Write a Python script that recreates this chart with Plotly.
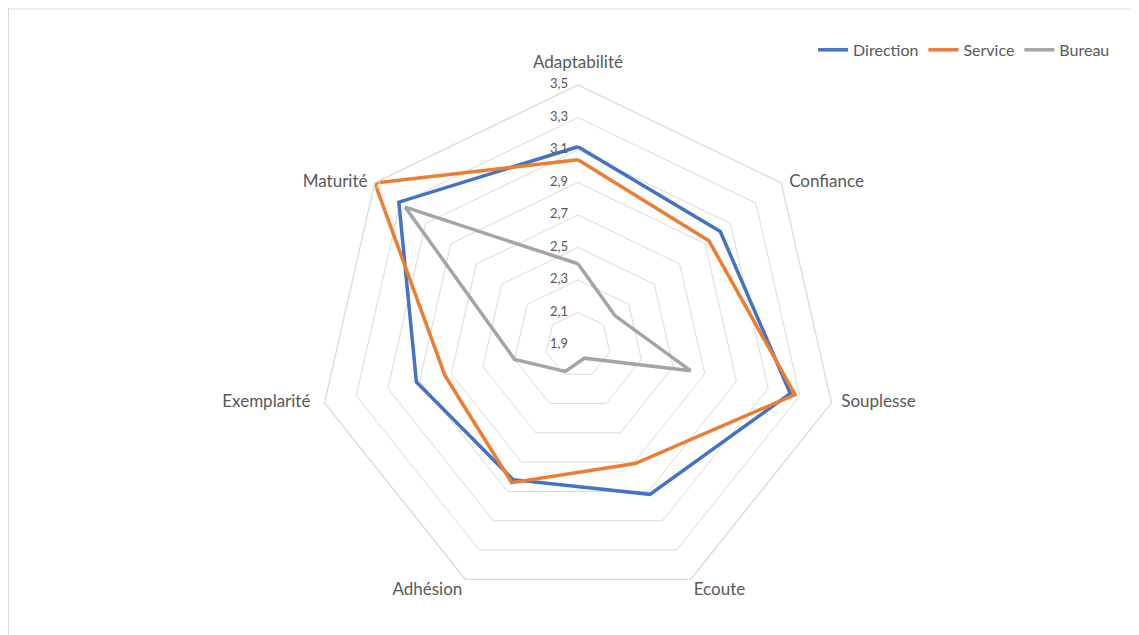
import plotly.graph_objects as go

categories = ["Adaptabilité", "Confiance", "Souplesse", "Ecoute", "Adhésion", "Exemplarité", "Maturité"]
direction = [3.12, 3.02, 3.24, 2.92, 2.82, 2.92, 3.31]
service = [3.04, 2.93, 3.27, 2.71, 2.84, 2.74, 3.50]
bureau = [2.40, 2.19, 2.61, 1.99, 2.08, 2.30, 3.26]
tick_vals = [1.9, 2.1, 2.3, 2.5, 2.7, 2.9, 3.1, 3.3, 3.5]

series = [("Direction", direction, "#4472C4"),
          ("Service", service, "#ED7D31"),
          ("Bureau", bureau, "#A5A5A5")]

r_min, r_max = tick_vals[0], tick_vals[-1]

fig = go.Figure()
for name, vals, col in series:
    fig.add_trace(go.Scatterpolar(
        r=vals + vals[:1],
        theta=categories + categories[:1],
        mode="lines",
        name=name,
        line=dict(color=col, width=3.5),
    ))

# radial tick labels, horizontal, along the first spoke
fig.add_trace(go.Scatterpolar(
    r=tick_vals,
    theta=[categories[0]] * len(tick_vals),
    mode="text",
    text=[("%.1f" % v).replace(".", ",") + "\u00a0\u00a0\u00a0" for v in tick_vals],
    textposition="middle left",
    textfont=dict(size=13, color="#595959"),
    showlegend=False,
    hoverinfo="skip",
    cliponaxis=False,
))

# category labels just outside the outer ring
fig.add_trace(go.Scatterpolar(
    r=[r_max] * len(categories),
    theta=categories,
    mode="markers+text",
    text=categories,
    textposition=["top center", "middle right", "middle right", "bottom right",
                  "bottom left", "middle left", "middle left"],
    marker=dict(size=[19, 11, 14, 3, 3, 21, 10], color="rgba(0,0,0,0)"),
    textfont=dict(size=17, color="#595959"),
    showlegend=False,
    hoverinfo="skip",
    cliponaxis=False,
))

W, H = 1139, 635
cx, cy, R = 570, 337, 260   # figure coords (page is offset by 8px body margin)
fig.update_layout(
    width=W, height=H,
    margin=dict(l=0, r=0, t=0, b=0),
    paper_bgcolor="white",
    font=dict(family="Lato, Noto Sans, sans-serif", color="#595959"),
    polar=dict(
        domain=dict(x=[(cx - R) / W, (cx + R) / W],
                    y=[(H - cy - R) / H, (H - cy + R) / H]),
        bgcolor="white",
        gridshape="linear",
        radialaxis=dict(
            range=[r_min - 1e-4, r_max],
            tickvals=tick_vals,
            angle=90,
            showline=False,
            showticklabels=False,
            ticks="",
            gridcolor="#D9D9D9",
            gridwidth=1.25,
        ),
        angularaxis=dict(
            rotation=90,
            direction="clockwise",
            showgrid=False,
            showline=True,
            showticklabels=False,
            linecolor="#D9D9D9",
            linewidth=1.25,
            ticks="",
        ),
    ),
    legend=dict(
        orientation="h",
        x=0.972, xanchor="right",
        y=0.934, yanchor="middle",
        font=dict(size=16, color="#595959"),
        bgcolor="rgba(0,0,0,0)",
    ),
    shapes=[
        dict(type="line", xref="paper", yref="paper",
             x0=0, x1=1, y0=1 - 1 / H, y1=1 - 1 / H,
             line=dict(color="#D9D9D9", width=1)),
        dict(type="line", xref="paper", yref="paper",
             x0=0.5 / W, x1=0.5 / W, y0=0, y1=1,
             line=dict(color="#D9D9D9", width=1)),
    ],
)

fig.write_html("out.html")
